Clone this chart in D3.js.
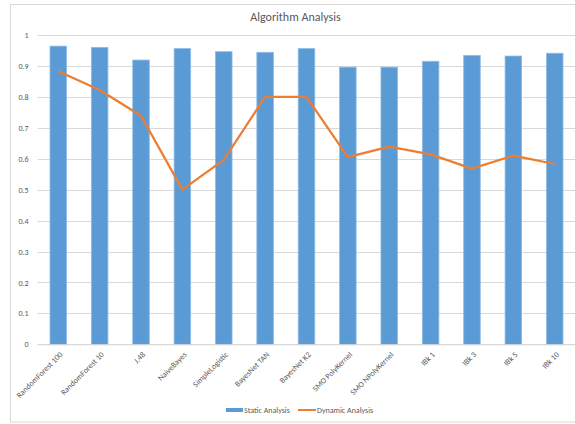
<!DOCTYPE html>
<html><head><meta charset="utf-8">
<script src="https://cdn.jsdelivr.net/npm/d3@7"></script>
<style>body{margin:0;background:#fff}svg{display:block}text{font-family:Carlito,"Liberation Sans Narrow","DejaVu Sans Condensed",sans-serif;fill:#595959}</style>
</head><body>
<script>
const categories = ["RandomForest 100","RandomForest 10","J.48","NaiveBayes","SimpleLogistic","BayesNet TAN","BayesNet K2","SMO PolyKernel","SMO NPolyKernel","IBk 1","IBk 3","IBk 5","IBk 10"];
const staticValues = [0.964,0.960,0.919,0.956,0.946,0.944,0.956,0.896,0.896,0.915,0.934,0.932,0.941];
const dynamicValues = [0.883,0.822,0.739,0.500,0.596,0.800,0.800,0.605,0.639,0.614,0.568,0.610,0.583];
const yTicks = [0,0.1,0.2,0.3,0.4,0.5,0.6,0.7,0.8,0.9,1];
const yTickLabels = ["0","0.1","0.2","0.3","0.4","0.5","0.6","0.7","0.8","0.9","1"];
const seriesNames = ["Static Analysis","Dynamic Analysis"];
const colors = ["#5B9BD5","#ED7D31"];
const FONT = 'Carlito,"Liberation Sans Narrow","DejaVu Sans Condensed",sans-serif';

const W=575,H=424;
const svg=d3.select("body").append("svg").attr("width",W).attr("height",H);
svg.append("rect").attr("x",10.5).attr("y",4.5).attr("width",W+20).attr("height",417.5)
  .attr("fill","#fff").attr("stroke","#d9d9d9");

const x=d3.scaleBand().domain(categories).range([37.6,575.4]).paddingInner(0.6).paddingOuter(0.3);
const y=d3.scaleLinear().domain([0,1]).range([344.3,35]);

svg.append("g").selectAll("line").data(yTicks).join("line")
  .attr("x1",37.6).attr("x2",W).attr("y1",d=>Math.round(y(d))+0.5).attr("y2",d=>Math.round(y(d))+0.5)
  .attr("stroke","#d9d9d9").attr("stroke-width",1);

const yAxis=d3.axisLeft(y).tickValues(yTicks).tickFormat((d,i)=>yTickLabels[i]).tickSize(0).tickPadding(9);
const ya=svg.append("g").attr("transform","translate(37.6,0)").call(yAxis);
ya.select(".domain").remove();
ya.selectAll("text").attr("font-size",8).style("fill","#595959").style("font-family",FONT);

svg.append("g").selectAll("rect").data(staticValues).join("rect")
  .attr("x",(d,i)=>x(categories[i])).attr("width",x.bandwidth())
  .attr("y",d=>y(d)).attr("height",d=>y(0)-y(d))
  .attr("fill",colors[0]).attr("stroke","#8fbbe4").attr("stroke-width",0.8);

const xAxis=d3.axisBottom(x).tickSize(0).tickPadding(4);
const xa=svg.append("g").attr("transform",`translate(0,${y(0)})`).call(xAxis);
xa.select(".domain").attr("stroke","#d9d9d9").attr("d",`M37.6,0.5H${W}`);
xa.selectAll("text").attr("font-size",8).style("fill","#595959")
  .style("font-family",FONT)
  .attr("text-anchor","end").attr("dy","0.35em")
  .attr("transform","translate(0,6) rotate(-45)");

const line=d3.line().x((d,i)=>x(categories[i])+x.bandwidth()/2).y(d=>y(d));
svg.append("path").datum(dynamicValues).attr("d",line)
  .attr("fill","none").attr("stroke",colors[1]).attr("stroke-width",2.25).attr("stroke-linejoin","round");

svg.append("text").attr("x",295.5).attr("y",21.3).attr("text-anchor","middle")
  .attr("font-size",12).text("Algorithm Analysis");

const lg=svg.append("g");
lg.append("line").attr("x1",226).attr("x2",243).attr("y1",410).attr("y2",410).attr("stroke",colors[0]).attr("stroke-width",4);
lg.append("text").attr("x",244).attr("y",412.5).attr("font-size",8).text(seriesNames[0]);
lg.append("line").attr("x1",298).attr("x2",316).attr("y1",410).attr("y2",410).attr("stroke",colors[1]).attr("stroke-width",2);
lg.append("text").attr("x",317).attr("y",412.5).attr("font-size",8).text(seriesNames[1]);
</script>
</body></html>
